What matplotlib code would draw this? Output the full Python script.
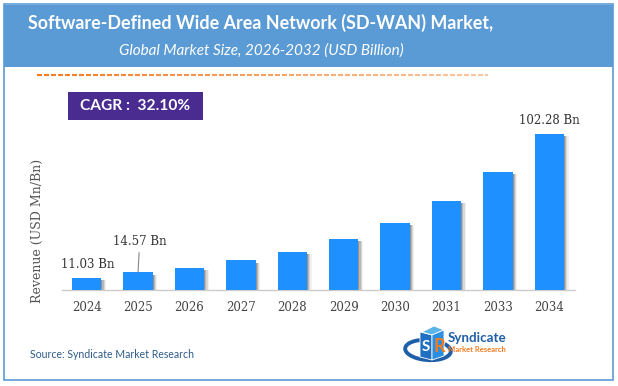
import matplotlib
matplotlib.use("Agg")
import matplotlib.pyplot as plt
import matplotlib.transforms as mtransforms
from matplotlib.patches import Rectangle, Arc, Polygon
import numpy as np

years = ["2024", "2025", "2026", "2027", "2028", "2029", "2030", "2031", "2033", "2034"]
revenue = [11.03, 14.57, 17.4, 22.0, 27.5, 35.6, 45.9, 59.8, 78.2, 102.28]
label_text = {0: "11.03 Bn", 1: "14.57 Bn", 9: "102.28 Bn"}
title = "Software-Defined Wide Area Network (SD-WAN) Market,"
subtitle = "Global Market Size, 2026-2032 (USD Billion)"
cagr = "CAGR :  32.10%"
source = "Source: Syndicate Market Research"
ylabel = "Revenue (USD Mn/Bn)"

W, H = 618, 386
fig = plt.figure(figsize=(W / 100, H / 100), dpi=100)
fig.patch.set_facecolor("white")
SANS = "Lato"

def fx(px):
    return px / W

def fy(py):
    return 1 - py / H

# outer border
fig.add_artist(Rectangle((fx(4), fy(380)), fx(609), (376) / H, transform=fig.transFigure,
                         fill=False, edgecolor="#5B9BD5", lw=1.2))
# header band
fig.add_artist(Rectangle((fx(4), fy(67)), fx(609), 62 / H, transform=fig.transFigure,
                         facecolor="#5B9BD5", edgecolor="none"))
fig.text(fx(261), fy(23), title, ha="center", va="center", color="white",
         fontsize=12.9, fontweight="bold", family=SANS)
fig.text(fx(261), fy(51), subtitle, ha="center", va="center", color="white",
         fontsize=11, style="italic", family=SANS)

# dashed orange line with fading
xs = np.arange(37, 488, 7)
for i, x0 in enumerate(xs):
    a = 1.0 - 0.6 * i / len(xs)
    fig.add_artist(plt.Line2D([fx(x0), fx(min(x0 + 5, 488))], [fy(74.5), fy(74.5)],
                              transform=fig.transFigure, color="#F47B20", alpha=a, lw=1.5,
                              solid_capstyle="butt"))

# CAGR box
fig.add_artist(Rectangle((fx(68), fy(120)), fx(135), 28 / H, transform=fig.transFigure,
                         facecolor="#4A2C91", edgecolor="none"))
fig.text(fx(135.5), fy(106), cagr, ha="center", va="center", color="white",
         fontsize=11.2, fontweight="bold", family=SANS)

# axes
ax_left, ax_right = 62, 575
base_y, top_y = 290, 100
ax = fig.add_axes([fx(ax_left), fy(base_y), (ax_right - ax_left) / W, (base_y - top_y) / H])
ax.set_facecolor("none")
ymin = 3.23
ax.set_ylim(ymin, ymin + (base_y - top_y) * 0.6337)
ax.set_xlim(-0.48, 9.5)
x = np.arange(len(years))
bw = 0.574

# soft shadow layers (offset right, slightly lower top)
for dx, al in [(1.0, 0.30), (2.2, 0.22), (3.4, 0.14), (4.6, 0.07)]:
    tr = mtransforms.offset_copy(ax.transData, fig=fig, x=dx, y=-2.5, units="dots")
    ax.bar(x, revenue, width=bw, color="#444444", alpha=al, transform=tr, zorder=1)
ax.bar(x, revenue, width=bw, color="#1E90FF", zorder=3)

for i, t in label_text.items():
    if i == 1:
        ax.annotate(t, xy=(x[i], revenue[i]), xytext=(x[i] + 0.03, revenue[i] + 15),
                    ha="center", va="bottom", fontsize=8.5, family="DejaVu Serif", color="#333333",
                    arrowprops=dict(arrowstyle="-", color="#888888", lw=0.8, shrinkA=1, shrinkB=0))
    else:
        ax.text(x[i] + (0.03 if i == 0 else 0), revenue[i] + 4.3, t, ha="center", va="bottom",
                fontsize=8.5, family="DejaVu Serif", color="#333333")

ax.set_xticks(x)
ax.set_xticklabels(years, fontsize=8.5, family="DejaVu Serif", color="#444444")
ax.tick_params(axis="x", length=0, pad=8)
ax.set_yticks([])
for s in ["top", "right", "left"]:
    ax.spines[s].set_visible(False)
ax.spines["bottom"].set_color("#CCCCCC")
ax.spines["bottom"].set_linewidth(1.0)

fig.text(fx(37), fy(231), ylabel, rotation=90, ha="center", va="center",
         fontsize=9, family="DejaVu Serif", color="#555555")

# source
fig.text(fx(30), fy(354), source, ha="left", va="center", fontsize=7.6,
         family=SANS, color="#2E5C8A")

# logo approximation
fig.add_artist(Arc((fx(428), fy(350)), 46 / W, 20 / H, angle=-10, theta1=100, theta2=400,
                   transform=fig.transFigure, edgecolor="#1F5FA8", lw=2.8))
fig.add_artist(Polygon([(fx(420), fy(357)), (fx(432), fy(360)), (fx(432), fy(335)), (fx(420), fy(332))],
                       closed=True, transform=fig.transFigure, facecolor="#1F6FC2", edgecolor="white", lw=0.6))
fig.add_artist(Polygon([(fx(422), fy(332)), (fx(432), fy(335)), (fx(444), fy(330)), (fx(434), fy(326))],
                       closed=True, transform=fig.transFigure, facecolor="#5BB4E8", edgecolor="white", lw=0.6))
fig.add_artist(Polygon([(fx(432), fy(335)), (fx(444), fy(330)), (fx(444), fy(356)), (fx(432), fy(360))],
                       closed=True, transform=fig.transFigure, facecolor="#2A8FE0", edgecolor="white", lw=0.6))
fig.text(fx(426), fy(347), "S", ha="center", va="center", fontsize=11, fontweight="bold",
         color="white", family=SANS)
fig.text(fx(439), fy(346), "R", ha="center", va="center", fontsize=13, fontweight="bold",
         color="#F47B20", family=SANS)
fig.text(fx(448), fy(338), "Syndicate", ha="left", va="center", fontsize=9.6,
         fontweight="bold", color="#1F5FA8", family=SANS)
fig.text(fx(448), fy(350), "Market Research", ha="left", va="center", fontsize=5.5,
         fontweight="bold", color="#F47B20", family=SANS)

fig.savefig("out.png", dpi=100)
